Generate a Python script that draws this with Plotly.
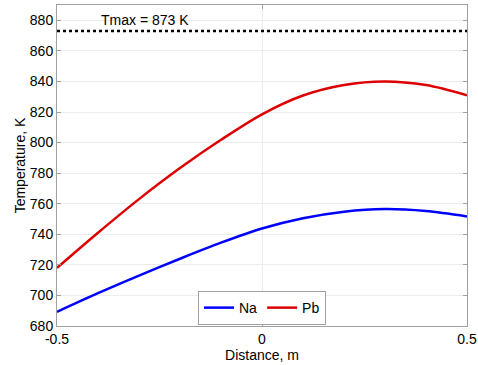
import plotly.graph_objects as go

distance = [-0.5, -0.4, -0.3, -0.2, -0.1, 0.0, 0.1, 0.2, 0.3, 0.4, 0.5]
temp_na = [689.3, 701.5, 713.0, 724.0, 734.5, 743.8, 750.5, 754.8, 756.5, 755.2, 751.7]
temp_pb = [718.0, 741.0, 763.0, 783.3, 801.8, 818.5, 830.8, 837.7, 840.0, 837.6, 831.0]
t_max = 873
y_ticks = [680, 700, 720, 740, 760, 780, 800, 820, 840, 860, 880]
x_ticks = [-0.5, 0, 0.5]
x_tick_labels = ["-0.5", "0", "0.5"]

font_family = "Liberation Sans, Arial, sans-serif"

fig = go.Figure()
fig.add_trace(go.Scatter(x=distance, y=temp_na, mode="lines", name="Na",
                         line=dict(color="#0000ff", width=2.5, shape="spline", smoothing=0.9)))
fig.add_trace(go.Scatter(x=distance, y=temp_pb, mode="lines", name="Pb",
                         line=dict(color="#dd0000", width=2.5, shape="spline", smoothing=0.9)))

fig.add_shape(type="line", xref="paper", x0=0, x1=1, yref="y", y0=t_max, y1=t_max,
              line=dict(color="black", width=2.5, dash="dot"))
fig.add_annotation(x=-0.285, y=880, xref="x", yref="y", text=f"Tmax = {t_max} K",
                   showarrow=False, font=dict(size=14, color="black", family=font_family))

axis_common = dict(showline=True, linecolor="#a0a0a0", linewidth=1, mirror="ticks",
                   ticks="inside", ticklen=4, tickcolor="#a0a0a0",
                   showgrid=True, gridcolor="#ececec", gridwidth=1, zeroline=False,
                   tickfont=dict(size=14, color="black", family=font_family))

fig.update_layout(
    width=478, height=365,
    margin=dict(l=57, r=11, t=5, b=39, autoexpand=False),
    paper_bgcolor="white", plot_bgcolor="white",
    font=dict(family=font_family, size=14, color="black"),
    xaxis=dict(range=[-0.5, 0.5], tickvals=x_ticks, ticktext=x_tick_labels,
               title=dict(text="Distance, m", standoff=0, font=dict(size=14)), **axis_common),
    yaxis=dict(range=[680, 890], tickvals=y_ticks,
               title=dict(text="Temperature, K", standoff=0, font=dict(size=14)), **axis_common),
    legend=dict(orientation="h", x=0.5, xanchor="center", y=0.056, yanchor="middle",
                bordercolor="#a0a0a0", borderwidth=1, bgcolor="white",
                font=dict(size=14), itemwidth=30, tracegroupgap=0),
    showlegend=True,
)

fig.write_html("out.html", config={"displayModeBar": False},
               post_script="document.body.style.margin='0px';document.body.style.padding='0px';")
